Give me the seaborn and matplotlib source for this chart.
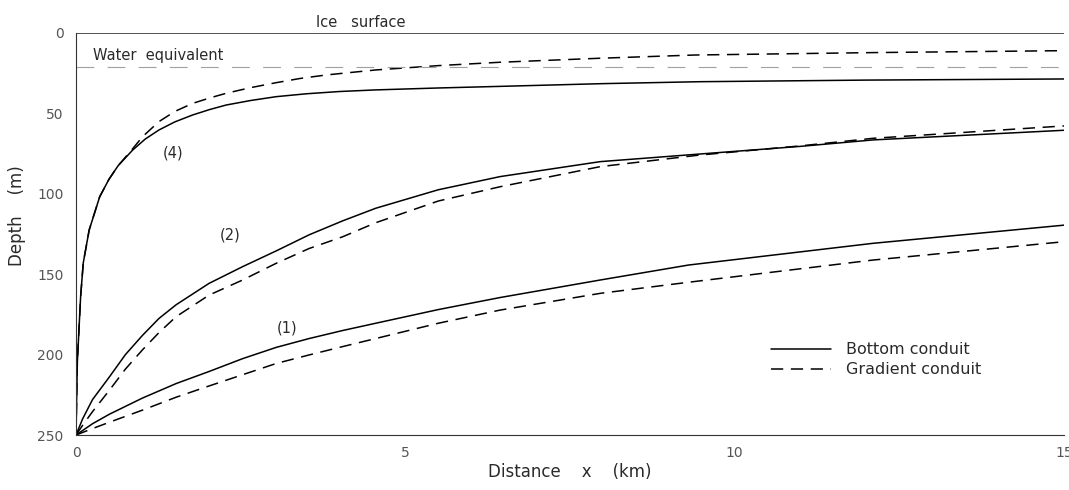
import numpy as np
import pandas as pd
import seaborn as sns
import matplotlib.pyplot as plt

# ----------------------------- data ------------------------------
# depth (m) of the conduit vs distance x (km)
x_4_bottom = [0, 0.02, 0.07, 0.11, 0.2, 0.36, 0.5, 0.64, 0.86, 1.05, 1.26, 1.5, 1.77, 2.03, 2.28, 2.65, 3.04, 3.5, 4.0, 4.55, 5.5, 6.44, 8.0, 9.47, 12.0, 15.0]
d_4_bottom = [250, 205, 164, 143, 122.5, 101.8, 91.0, 82.5, 72.8, 66.0, 60.3, 55.3, 51.0, 47.6, 44.8, 42.0, 39.6, 37.8, 36.4, 35.4, 34.2, 33.2, 31.5, 30.3, 29.3, 28.6]
x_4_grad = [0, 0.02, 0.07, 0.11, 0.2, 0.36, 0.5, 0.64, 0.86, 1.01, 1.26, 1.5, 1.77, 2.03, 2.28, 2.65, 3.04, 3.4, 3.8, 4.55, 5.5, 6.44, 7.96, 9.4, 12.1, 15.0]
d_4_grad = [250, 205, 164, 143, 122.5, 101.8, 91.0, 82.5, 72.0, 64.5, 55.1, 48.8, 43.8, 40.4, 37.5, 34.0, 30.9, 28.3, 26.1, 23.0, 20.3, 18.2, 15.7, 13.7, 12.2, 11.0]

x_2_bottom = [0, 0.1, 0.25, 0.51, 0.75, 1.01, 1.26, 1.52, 2.02, 2.53, 3.04, 3.54, 4.05, 4.55, 5.5, 6.44, 7.96, 9.3, 11.0, 12.1, 15.0]
d_2_bottom = [250, 240, 228, 213.7, 200, 188, 177.5, 169, 155.7, 145.3, 135.5, 125.5, 116.8, 109, 97.5, 89.3, 80, 75.8, 70.5, 66.5, 60.5]
x_2_grad = [0, 0.1, 0.25, 0.51, 0.75, 1.01, 1.26, 1.52, 2.02, 2.53, 3.04, 3.54, 4.05, 4.55, 5.5, 6.44, 7.96, 9.47, 11.0, 12.1, 15.0]
d_2_grad = [250, 244, 235.5, 222, 209, 197, 186.3, 176.4, 163, 153.6, 143.2, 134, 126.7, 118, 104.5, 95.6, 83.1, 75.9, 70.2, 65.5, 57.8]

x_1_bottom = [0, 0.25, 0.51, 1.01, 1.52, 2.02, 2.53, 3.04, 3.54, 4.05, 4.55, 5.5, 6.44, 7.96, 9.3, 12.1, 15.0]
d_1_bottom = [250, 243, 237, 227, 218, 210.5, 202.5, 195.5, 190, 185, 180.5, 172, 164.5, 153.6, 144.3, 130.8, 119.5]
x_1_grad = [0, 0.25, 0.51, 1.01, 1.52, 2.02, 2.53, 3.04, 3.54, 4.05, 4.55, 5.5, 6.44, 7.96, 9.3, 12.1, 15.0]
d_1_grad = [250, 246, 242, 234.5, 226.5, 219.5, 212.5, 205.5, 200.2, 195, 190, 180.5, 172.3, 161.9, 155, 141.2, 129.8]

ice_surface_depth = 0
water_equiv_depth = 21

curve_labels = ["(4)", "(2)", "(1)"]
label_x = [1.47, 2.34, 3.2]
label_d = [74.6, 125.6, 183.6]

# ----------------------------- long table ------------------------
frames = []
for cid, xs, ds, kind in [
    ("4b", x_4_bottom, d_4_bottom, "Bottom conduit"),
    ("4g", x_4_grad, d_4_grad, "Gradient conduit"),
    ("2b", x_2_bottom, d_2_bottom, "Bottom conduit"),
    ("2g", x_2_grad, d_2_grad, "Gradient conduit"),
    ("1b", x_1_bottom, d_1_bottom, "Bottom conduit"),
    ("1g", x_1_grad, d_1_grad, "Gradient conduit"),
]:
    frames.append(pd.DataFrame({"x": xs, "depth": ds, "curve": cid, "conduit": kind}))
df = pd.concat(frames, ignore_index=True)

# ----------------------------- plot ------------------------------
sns.set_style("white")
plt.rcParams["font.family"] = ["DejaVu Sans"]
txt = "#2a2a2a"

fig = plt.figure(figsize=(10.69, 4.9), dpi=100)
ax = fig.add_axes([0.0711, 0.1122, 0.9242, 0.8205])

sns.lineplot(data=df, x="x", y="depth", units="curve", style="conduit",
             estimator=None, sort=False, color="black", linewidth=1.1,
             dashes={"Bottom conduit": "", "Gradient conduit": (8, 5)}, ax=ax)

ax.axhline(ice_surface_depth, color="#222222", lw=1.1)
ax.axhline(water_equiv_depth, color="#a0a0a0", lw=0.8, dashes=(16, 12))

ax.set_xlim(0, 15)
ax.set_ylim(250, 0)
ax.set_xticks([0, 5, 10, 15])
ax.set_xticks(np.arange(0, 16, 1), minor=True)
ax.set_yticks([0, 50, 100, 150, 200, 250])
ax.tick_params(axis="x", which="major", direction="in", length=8, width=0.8,
               colors="#333333", labelcolor="#555555", labelsize=10, pad=8)
ax.tick_params(axis="x", which="minor", direction="in", length=5, width=0.8, colors="#333333")
ax.tick_params(axis="y", which="major", direction="out", length=6, width=0.8,
               colors="#333333", labelcolor="#555555", labelsize=10, pad=3)
ax.spines["right"].set_visible(False)
ax.spines["top"].set_visible(False)
for s in ["left", "bottom"]:
    ax.spines[s].set_color("#333333")
    ax.spines[s].set_linewidth(0.8)

ax.set_xlabel("Distance    x    (km)", fontsize=12, color=txt, labelpad=2)
ax.set_ylabel("Depth    (m)", fontsize=12, color=txt, labelpad=10)
ax.yaxis.set_label_coords(-0.051, 0.545)

for lab, lx, ld in zip(curve_labels, label_x, label_d):
    ax.text(lx, ld, lab, fontsize=10.5, color=txt, ha="center", va="center")

ax.text(4.33, -6.5, "Ice   surface", fontsize=10.5, color=txt, ha="center", va="center", clip_on=False)
ax.text(0.26, 13.7, "Water  equivalent", fontsize=10.5, color=txt, ha="left", va="center")

handles, labels = ax.get_legend_handles_labels()
pairs = [(h, l) for h, l in zip(handles, labels) if l in ("Bottom conduit", "Gradient conduit")]
ax.legend([p[0] for p in pairs], [p[1] for p in pairs], loc="center left",
          bbox_to_anchor=(0.703, 0.187), frameon=False, fontsize=11.5,
          handlelength=3.8, handletextpad=0.9, labelspacing=0.3, labelcolor=txt,
          borderpad=0, borderaxespad=0)

fig.savefig("out.png", dpi=100)
